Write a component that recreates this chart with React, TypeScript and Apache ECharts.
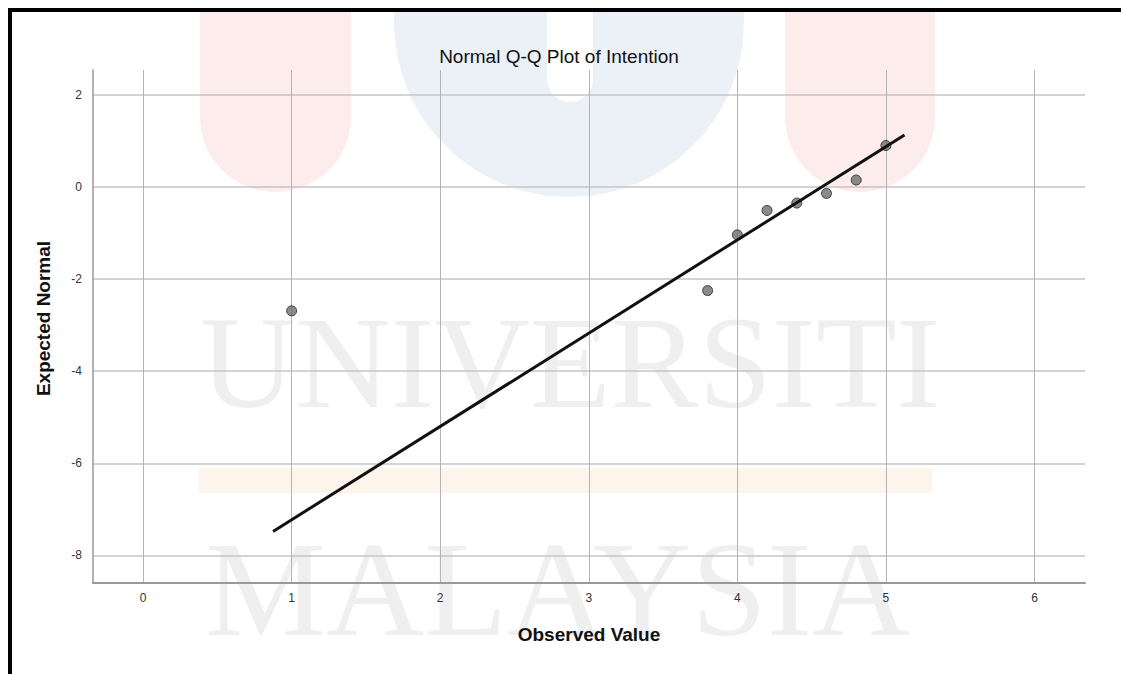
import React, { useEffect, useRef } from "react";
import * as echarts from "echarts";

// Observed values (x) and expected normal values (y)
const observedValues = [1.0, 3.8, 4.0, 4.2, 4.4, 4.6, 4.8, 5.0];
const expectedNormal = [-2.69, -2.25, -1.04, -0.51, -0.35, -0.14, 0.15, 0.9];

// Reference (Q-Q) line end points
const refLineX = [0.875, 5.125];
const refLineY = [-7.48, 1.13];

// Axis extents
const xExtent = [-0.337, 6.34];
const yExtent = [-8.6, 2.54];

const FONT = "'Liberation Sans', Arial, sans-serif";

const intLabel = (v: number) =>
  Math.abs(v - Math.round(v)) < 1e-6 ? String(Math.round(v)) : "";

export default function App() {
  const ref = useRef<HTMLDivElement>(null);
  useEffect(() => {
    const chart = echarts.init(ref.current!, null, { renderer: "svg" });
    const points = observedValues.map((x, i) => [x, expectedNormal[i]]);
    const line = refLineX.map((x, i) => [x, refLineY[i]]);
    chart.setOption({
      animation: false,
      backgroundColor: "#ffffff",
      title: {
        text: "Normal Q-Q Plot of Intention",
        left: 554,
        top: 42,
        textAlign: "center",
        textStyle: { fontFamily: FONT, fontSize: 19, fontWeight: "normal", color: "#111" },
      },
      graphic: {
        elements: [
          { type: "rect", z: -10, silent: true, shape: { x: 200, y: 12, width: 151, height: 180, r: [0, 0, 75, 75] }, style: { fill: "#fcecec" } },
          { type: "rect", z: -10, silent: true, shape: { x: 394, y: 12, width: 350, height: 185, r: [0, 0, 175, 175] }, style: { fill: "#ebf1f7" } },
          { type: "rect", z: -9, silent: true, shape: { x: 547, y: 12, width: 46, height: 90, r: [0, 0, 23, 23] }, style: { fill: "#ffffff" } },
          { type: "rect", z: -10, silent: true, shape: { x: 785, y: 12, width: 150, height: 180, r: [0, 0, 75, 75] }, style: { fill: "#fcecec" } },
          { type: "rect", z: -10, silent: true, shape: { x: 199, y: 468, width: 733, height: 25 }, style: { fill: "#fdf5ec" } },
          { type: "text", z: -10, silent: true, x: 200, y: 362, style: { text: "UNIVERSITI", fill: "#efefef", font: "132px 'Liberation Serif', serif", verticalAlign: "middle", align: "left" } },
          { type: "text", z: -10, silent: true, x: 205, y: 589, style: { text: "MALAYSIA", fill: "#efefef", font: "136px 'Liberation Serif', serif", verticalAlign: "middle", align: "left" } },
          { type: "line", z: 10, silent: true, shape: { x1: 8, y1: 10, x2: 1121, y2: 10 }, style: { stroke: "#000", lineWidth: 4 } },
          { type: "line", z: 10, silent: true, shape: { x1: 10, y1: 8, x2: 10, y2: 674 }, style: { stroke: "#000", lineWidth: 4 } },
        ],
      },
      grid: { left: 93, right: 36, top: 70, bottom: 91 },
      xAxis: {
        type: "value",
        min: xExtent[0],
        max: xExtent[1],
        name: "Observed Value",
        nameLocation: "middle",
        nameGap: 42,
        nameTextStyle: { fontFamily: FONT, fontSize: 19, fontWeight: "bold", color: "#111" },
        axisLine: { show: true, onZero: false, lineStyle: { color: "#999", width: 2 } },
        axisTick: { show: false },
        axisLabel: {
          margin: 9,
          fontFamily: FONT,
          fontSize: 12,
          color: "#333",
          showMinLabel: false,
          showMaxLabel: false,
          formatter: intLabel,
        },
        splitLine: { show: true, showMinLine: false, showMaxLine: false, lineStyle: { color: "#b4b4b4", width: 1 } },
      },
      yAxis: {
        type: "value",
        min: yExtent[0],
        max: yExtent[1],
        name: "Expected Normal",
        nameLocation: "middle",
        nameGap: 40,
        nameTextStyle: { fontFamily: FONT, fontSize: 19, fontWeight: "bold", color: "#111", padding: [0, 0, 0, 16] },
        axisLine: { show: true, onZero: false, lineStyle: { color: "#999", width: 1.5 } },
        axisTick: { show: false },
        axisLabel: {
          margin: 11,
          fontFamily: FONT,
          fontSize: 12,
          color: "#333",
          showMinLabel: false,
          showMaxLabel: false,
          formatter: intLabel,
        },
        splitLine: { show: true, showMinLine: false, showMaxLine: false, lineStyle: { color: "#c4c4c4", width: 1.5 } },
      },
      series: [
        {
          type: "scatter",
          data: points,
          symbol: "circle",
          symbolSize: 10,
          z: 3,
          itemStyle: { color: "#6e6e6e", borderColor: "#222", borderWidth: 1 },
        },
        {
          type: "line",
          data: line,
          symbol: "none",
          z: 4,
          lineStyle: { color: "#111", width: 3 },
        },
      ],
    });
    return () => chart.dispose();
  }, []);
  return (
    <div
      ref={ref}
      style={{ position: "fixed", left: 0, top: 0, width: 1121, height: 674, background: "#fff" }}
    />
  );
}
